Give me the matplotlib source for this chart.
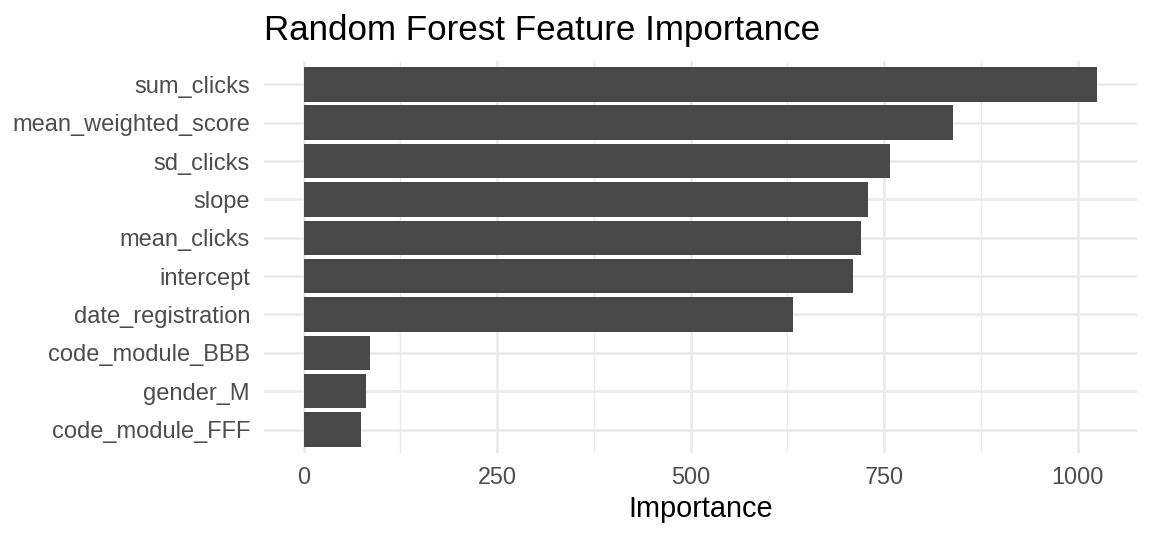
import matplotlib
matplotlib.use("Agg")
import matplotlib.pyplot as plt
from matplotlib.ticker import FixedLocator

features = ["code_module_FFF", "gender_M", "code_module_BBB", "date_registration",
            "intercept", "mean_clicks", "slope", "sd_clicks",
            "mean_weighted_score", "sum_clicks"]
importance = [73.7, 80.7, 86, 631.6, 710, 720.7, 728.5, 758, 839.5, 1025]
x_ticks = [0, 250, 500, 750, 1000]
x_minor = [125, 375, 625, 875]
title = "Random Forest Feature Importance"
x_title = "Importance"

plt.rcParams['font.family'] = ['Liberation Sans', 'DejaVu Sans']

W, H = 1152, 537
fig = plt.figure(figsize=(W / 100, H / 100), dpi=100)
left, right, top, bottom = 264, 1136.7, 61.3, 452.6
ax = fig.add_axes([left / W, 1 - bottom / H, (right - left) / W, (bottom - top) / H])

pos = list(range(1, len(features) + 1))
ax.barh(pos, importance, height=0.9, color="#484848", zorder=3)

xmax = max(importance)
ax.set_xlim(-0.05 * xmax, 1.05 * xmax)
ax.set_ylim(0.4, len(features) + 0.6)

ax.xaxis.set_major_locator(FixedLocator(x_ticks))
ax.xaxis.set_minor_locator(FixedLocator(x_minor))
ax.set_yticks(pos)
ax.set_yticklabels(features)
ax.set_xticklabels([str(t) for t in x_ticks])

ax.grid(which="major", axis="both", color="#EBEBEB", linewidth=1.9, zorder=0)
ax.grid(which="minor", axis="x", color="#EBEBEB", linewidth=1.0, zorder=0)
ax.set_axisbelow(True)
for s in ax.spines.values():
    s.set_visible(False)
ax.tick_params(axis="both", which="both", length=0)
ax.tick_params(axis="x", pad=10, labelsize=16.8, labelcolor="#4D4D4D")
ax.tick_params(axis="y", pad=10, labelsize=17, labelcolor="#4D4D4D")

fig.text(264 / W, 1 - 40 / H, title, fontsize=25.2, color="black",
         ha="left", va="baseline")
fig.text((left + right) / 2 / W, 1 - 517 / H, x_title, fontsize=20.8,
         color="black", ha="center", va="baseline")

fig.savefig("out.png", dpi=100, facecolor="white")
